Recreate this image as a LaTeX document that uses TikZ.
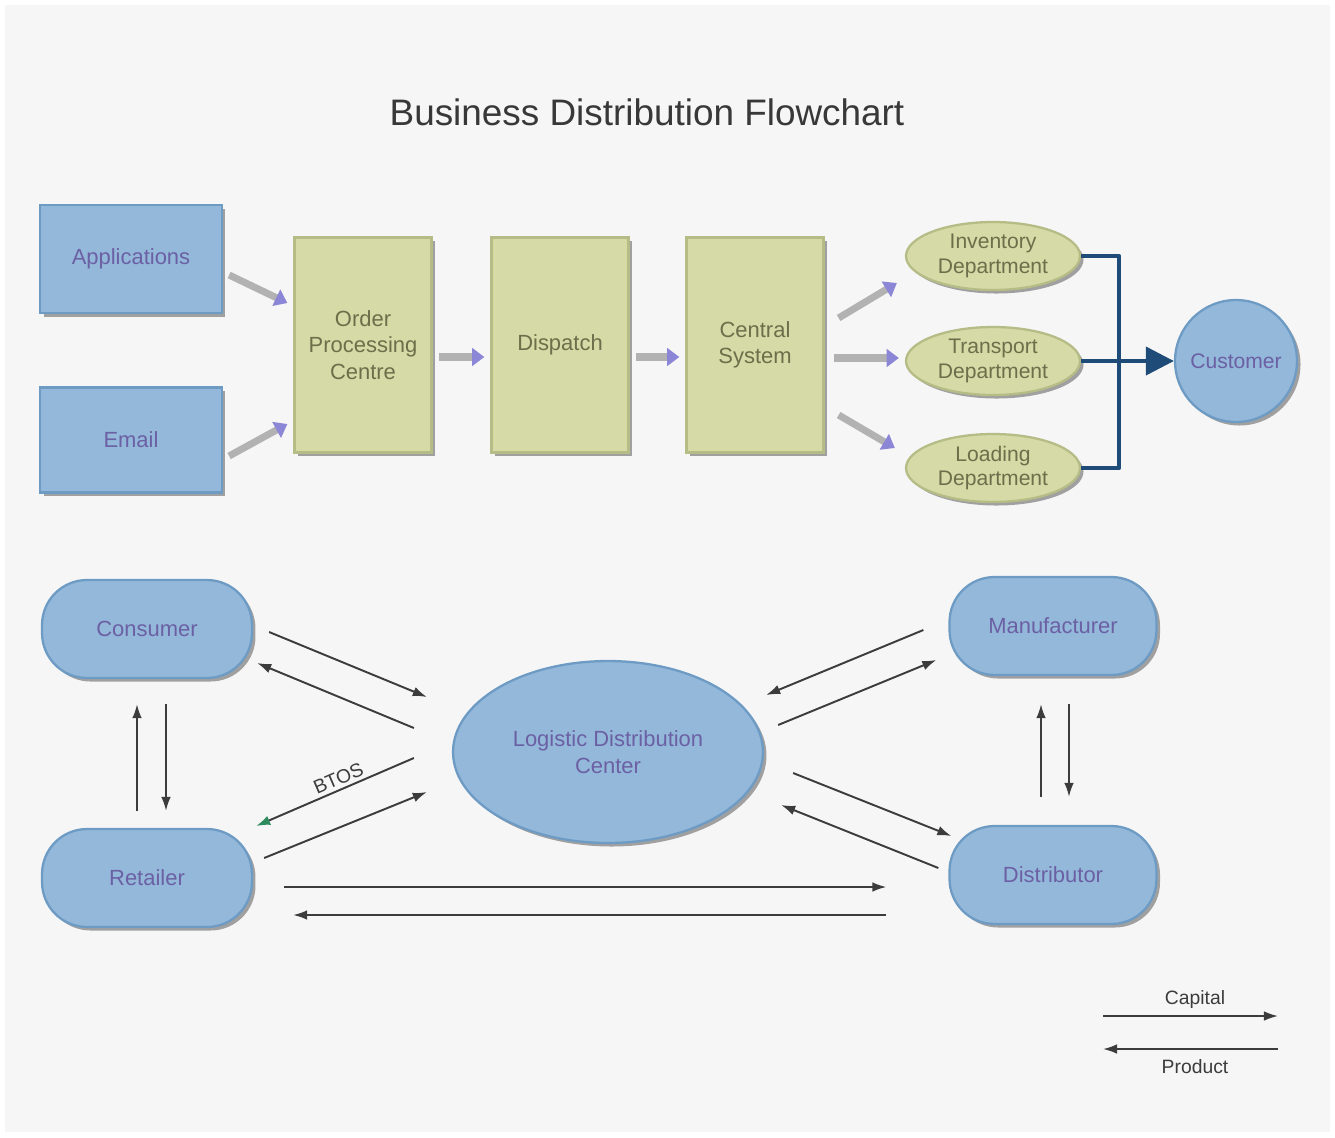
\documentclass[tikz,border=0pt]{standalone}
\usepackage{fontspec}
\setmainfont{Liberation Sans}
\usetikzlibrary{arrows.meta,calc,shapes.geometric,shadows}
\definecolor{bgc}{HTML}{F6F6F6}
\definecolor{bluef}{HTML}{93B8DA}
\definecolor{blued}{HTML}{6E9BC4}
\definecolor{olivef}{HTML}{D5DAA6}
\definecolor{olived}{HTML}{B6BC86}
\definecolor{purtxt}{HTML}{6C60A4}
\definecolor{olitxt}{HTML}{6E6E4A}
\definecolor{navy}{HTML}{1E4B77}
\definecolor{arrgray}{HTML}{3C3C3C}
\definecolor{tipblue}{HTML}{8C86D6}
\definecolor{tipgreen}{HTML}{2E8B5E}
\tikzset{
  shade/.style={drop shadow={shadow xshift=2pt,shadow yshift=-2pt,opacity=.35,fill=black}},
  bluebox/.style={rectangle,draw=blued,line width=1.3pt,fill=bluef,shade,
    text=purtxt,font=\fontsize{12.5}{15}\selectfont,align=center,inner sep=2pt},
  olivebox/.style={rectangle,draw=olived,line width=1.3pt,fill=olivef,shade,
    text=olitxt,font=\fontsize{12.5}{15}\selectfont,align=center,
    minimum width=2.74cm,minimum height=4.3cm,inner sep=2pt},
  oliveell/.style={ellipse,draw=olived,line width=1.3pt,fill=olivef,shade,
    text=olitxt,font=\fontsize{12}{14}\selectfont,align=center,
    minimum width=3.48cm,minimum height=1.36cm,inner sep=0pt},
  pill/.style={bluebox,rounded corners=0.9cm,minimum width=4.2cm,minimum height=1.96cm},
  blockarr/.style={line width=4pt,draw=gray!60,
    -{Triangle[length=7pt,width=10pt,color=tipblue]}},
  thinarr/.style={line width=1.1pt,draw=arrgray,
    -{Latex[length=8pt,width=5.5pt]}},
  lbl/.style={font=\fontsize{11}{13}\selectfont,text=arrgray}
}
\begin{document}
\begin{tikzpicture}[x=0.02cm,y=-0.02cm]
\useasboundingbox (0,0) rectangle (1335,1137);
\fill[white] (0,0) rectangle (1335,1137);
\fill[bgc] (5,5) rectangle (1330,1132);

\node[font=\fontsize{21}{25}\selectfont,text=black!78] (title) at (647,112) {Business Distribution Flowchart};

% top row
\node[bluebox,minimum width=3.64cm,minimum height=2.16cm] (app) at (131,259) {Applications};
\node[bluebox,minimum width=3.64cm,minimum height=2.1cm] (email) at (131,440) {Email};
\node[olivebox] (opc) at (363,345) {Order\\Processing\\Centre};
\node[olivebox] (disp) at (560,345) {Dispatch};
\node[olivebox] (cen) at (755,345) {Central\\System};
\node[oliveell] (inv) at (993,256) {Inventory\\Department};
\node[oliveell] (tra) at (993,361) {Transport\\Department};
\node[oliveell] (loa) at (993,468) {Loading\\Department};
\node[circle,draw=blued,line width=1.3pt,fill=bluef,shade,text=purtxt,
  font=\fontsize{12}{14}\selectfont,minimum size=2.44cm,inner sep=0pt] (cus) at (1236,361) {Customer};

\draw[blockarr] ($(app.east)+(6,16)$) -- ($(opc.west)+(-6,-42)$);
\draw[blockarr] ($(email.east)+(6,16)$) -- ($(opc.west)+(-6,79)$);
\draw[blockarr] ($(opc.east)+(6,12)$) -- ($(disp.west)+(-6,12)$);
\draw[blockarr] ($(disp.east)+(6,12)$) -- ($(cen.west)+(-6,12)$);
\draw[blockarr] ($(cen.east)+(14,-27)$) -- ($(inv.west)+(-8,27)$);
\draw[blockarr] ($(cen.east)+(9,13)$) -- ($(tra.west)+(-6,-3)$);
\draw[blockarr] ($(cen.east)+(14,70)$) -- ($(loa.west)+(-10,-20)$);

\draw[navy,line width=2.3pt,line join=round] (inv.east) -- ++(38,0) |- (loa.east);
\draw[navy,line width=2.3pt,-{Triangle[length=16pt,width=16pt]}] (tra.east) -- (cus.west);

% bottom
\node[pill] (cons) at (147,629) {Consumer};
\node[pill] (ret) at (147,878) {Retailer};
\node[pill,minimum width=4.14cm] (man) at (1053,626) {Manufacturer};
\node[pill,minimum width=4.14cm] (dist) at (1053,875) {Distributor};
\node[ellipse,draw=blued,line width=1.3pt,fill=bluef,shade,text=purtxt,
  font=\fontsize{12.5}{15}\selectfont,align=center,minimum width=6.2cm,
  minimum height=3.64cm,inner sep=0pt] (ldc) at (608,752) {Logistic Distribution\\Center};

\draw[thinarr] ($(cons.east)+(16,3)$) -- ($(ldc.west)+(-25,-55)$);
\draw[thinarr] ($(ldc.west)+(-38,-24)$) -- ($(cons.east)+(4,34)$);
\draw[thinarr] ($(ret.north)+(-10,-17)$) -- ($(cons.south)+(-10,25)$);
\draw[thinarr] ($(cons.south)+(19,25)$) -- ($(ret.north)+(19,-17)$);
\draw[line width=1.1pt,draw=arrgray,-{Latex[length=8pt,width=5.5pt,color=tipgreen]}]
  ($(ldc.west)+(-38,6)$) -- node[lbl,sloped,above,pos=0.45,inner sep=2pt] (btos) {BTOS} ($(ret.east)+(3,-52)$);
\draw[thinarr] ($(ret.east)+(11,-20)$) -- ($(ldc.west)+(-25,40)$);
\draw[thinarr] ($(ret.east)+(31,9)$) -- ($(dist.west)+(-62,12)$);
\draw[thinarr] ($(dist.west)+(-62,40)$) -- ($(ret.east)+(40,37)$);
\draw[thinarr] ($(man.west)+(-25,4)$) -- ($(ldc.east)+(2,-57)$);
\draw[thinarr] ($(ldc.east)+(14,-27)$) -- ($(man.west)+(-12,34)$);
\draw[thinarr] ($(dist.north)+(-12,-28)$) -- ($(man.south)+(-12,28)$);
\draw[thinarr] ($(man.south)+(16,28)$) -- ($(dist.north)+(16,-28)$);
\draw[thinarr] ($(ldc.east)+(29,21)$) -- ($(dist.west)+(3,-39)$);
\draw[thinarr] ($(dist.west)+(-10,-7)$) -- ($(ldc.east)+(17,53)$);

% legend
\node[lbl] (capital) at (1195,999) {Capital};
\node[lbl] (product) at (1195,1067) {Product};
\coordinate (lga) at (1103,1016);
\coordinate (lgb) at (1278,1016);
\coordinate (lgc) at (1278,1049);
\coordinate (lgd) at (1103,1049);
\draw[thinarr] (lga) -- (lgb);
\draw[thinarr] (lgc) -- (lgd);
\end{tikzpicture}
\end{document}
